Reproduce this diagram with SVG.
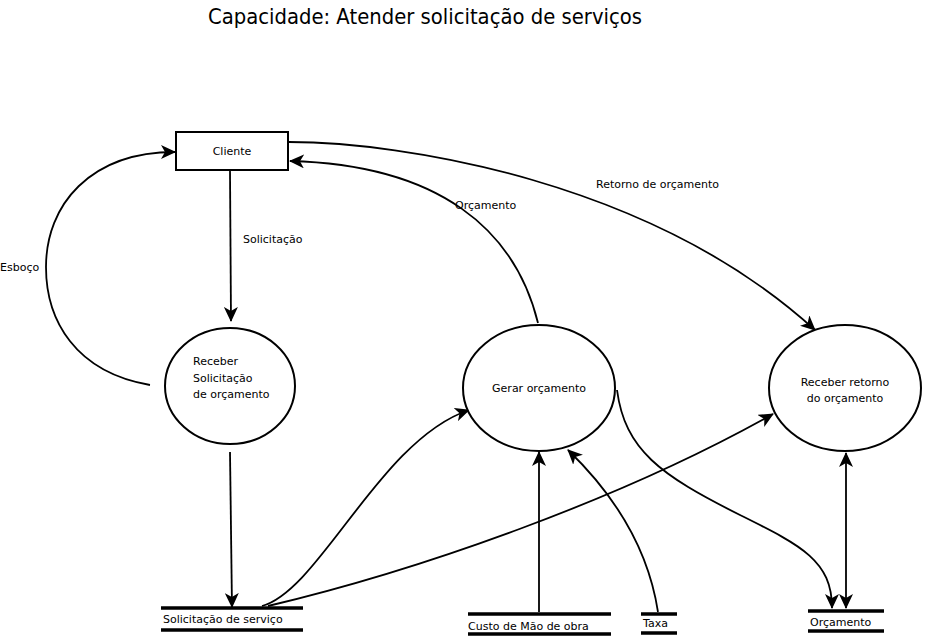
<svg xmlns="http://www.w3.org/2000/svg" width="925" height="638" viewBox="0 0 925 638">
<style>
text{font-family:"DejaVu Sans","Liberation Sans",sans-serif;font-size:11px;fill:#000}
.title{font-size:21px}
.node{fill:#fff;stroke:#000;stroke-width:2}
.store{stroke:#000;stroke-width:3.5}
.flow{fill:none;stroke:#000;stroke-width:1.8}
</style>
<defs>
<marker id="ah" markerUnits="userSpaceOnUse" markerWidth="15" markerHeight="14" refX="14" refY="7" orient="auto">
<path d="M0,0 L15,7 L0,14 L4,7 Z" fill="#000"/>
</marker>
<marker id="as" markerUnits="userSpaceOnUse" markerWidth="15" markerHeight="14" refX="1" refY="7" orient="auto">
<path d="M15,0 L0,7 L15,14 L11,7 Z" fill="#000"/>
</marker>
</defs>
<text class="title" x="208" y="24" textLength="434" lengthAdjust="spacingAndGlyphs">Capacidade: Atender solicitação de serviços</text>
<g id="connectors">
<path class="flow" d="M230,171 L231,321" marker-end="url(#ah)"/>
<path class="flow" d="M150,385 C75,372 46,320 46,267 C46,205 90,152 175,152" marker-end="url(#ah)"/>
<path class="flow" d="M538,323 C515,230 440,165 290,161" marker-end="url(#ah)"/>
<path class="flow" d="M289,142 C400,142 650,180 815,330" marker-end="url(#ah)"/>
<path class="flow" d="M230,452 L232,607" marker-end="url(#ah)"/>
<path class="flow" d="M262,606 C320,590 380,440 469,410" marker-end="url(#ah)"/>
<path class="flow" d="M268,606 C420,570 620,500 773,414" marker-end="url(#ah)"/>
<path class="flow" d="M539,612 L539,452" marker-end="url(#ah)"/>
<path class="flow" d="M658,612 C650,560 625,505 568,450" marker-end="url(#ah)"/>
<path class="flow" d="M617,390 C625,450 660,475 740,515 C800,545 832,560 832,608" marker-end="url(#ah)"/>
<path class="flow" d="M846,453 L846,608" marker-start="url(#as)" marker-end="url(#ah)"/>
<text x="243" y="243">Solicitação</text>
<text x="0" y="271">Esboço</text>
<text x="455" y="209">Orçamento</text>
<text x="596" y="188">Retorno de orçamento</text>
</g>
<g id="cliente">
<rect class="node" x="176" y="132" width="112" height="38"/>
<text x="232" y="155" text-anchor="middle">Cliente</text>
</g>
<g id="receber-solicitacao">
<ellipse class="node" cx="230" cy="386" rx="65" ry="58"/>
<text x="193" y="365">Receber</text>
<text x="193" y="382">Solicitação</text>
<text x="193" y="398">de orçamento</text>
</g>
<g id="gerar-orcamento">
<ellipse class="node" cx="539" cy="388" rx="76" ry="63"/>
<text x="539" y="392" text-anchor="middle">Gerar orçamento</text>
</g>
<g id="receber-retorno">
<ellipse class="node" cx="845" cy="388" rx="76" ry="63"/>
<text x="845" y="386" text-anchor="middle">Receber retorno</text>
<text x="845" y="402" text-anchor="middle">do orçamento</text>
</g>
<g id="store-solicitacao">
<line class="store" x1="161" y1="608" x2="303" y2="608"/>
<line class="store" x1="161" y1="630" x2="303" y2="630"/>
<text x="163" y="623">Solicitação de serviço</text>
</g>
<g id="store-custo">
<line class="store" x1="468" y1="614" x2="611" y2="614"/>
<line class="store" x1="468" y1="634" x2="611" y2="634"/>
<text x="468" y="630">Custo de Mão de obra</text>
</g>
<g id="store-taxa">
<line class="store" x1="641" y1="614" x2="677" y2="614"/>
<line class="store" x1="641" y1="633" x2="677" y2="633"/>
<text x="643" y="627">Taxa</text>
</g>
<g id="store-orcamento">
<line class="store" x1="808" y1="611" x2="884" y2="611"/>
<line class="store" x1="808" y1="631" x2="884" y2="631"/>
<text x="810" y="626">Orçamento</text>
</g>
</svg>
